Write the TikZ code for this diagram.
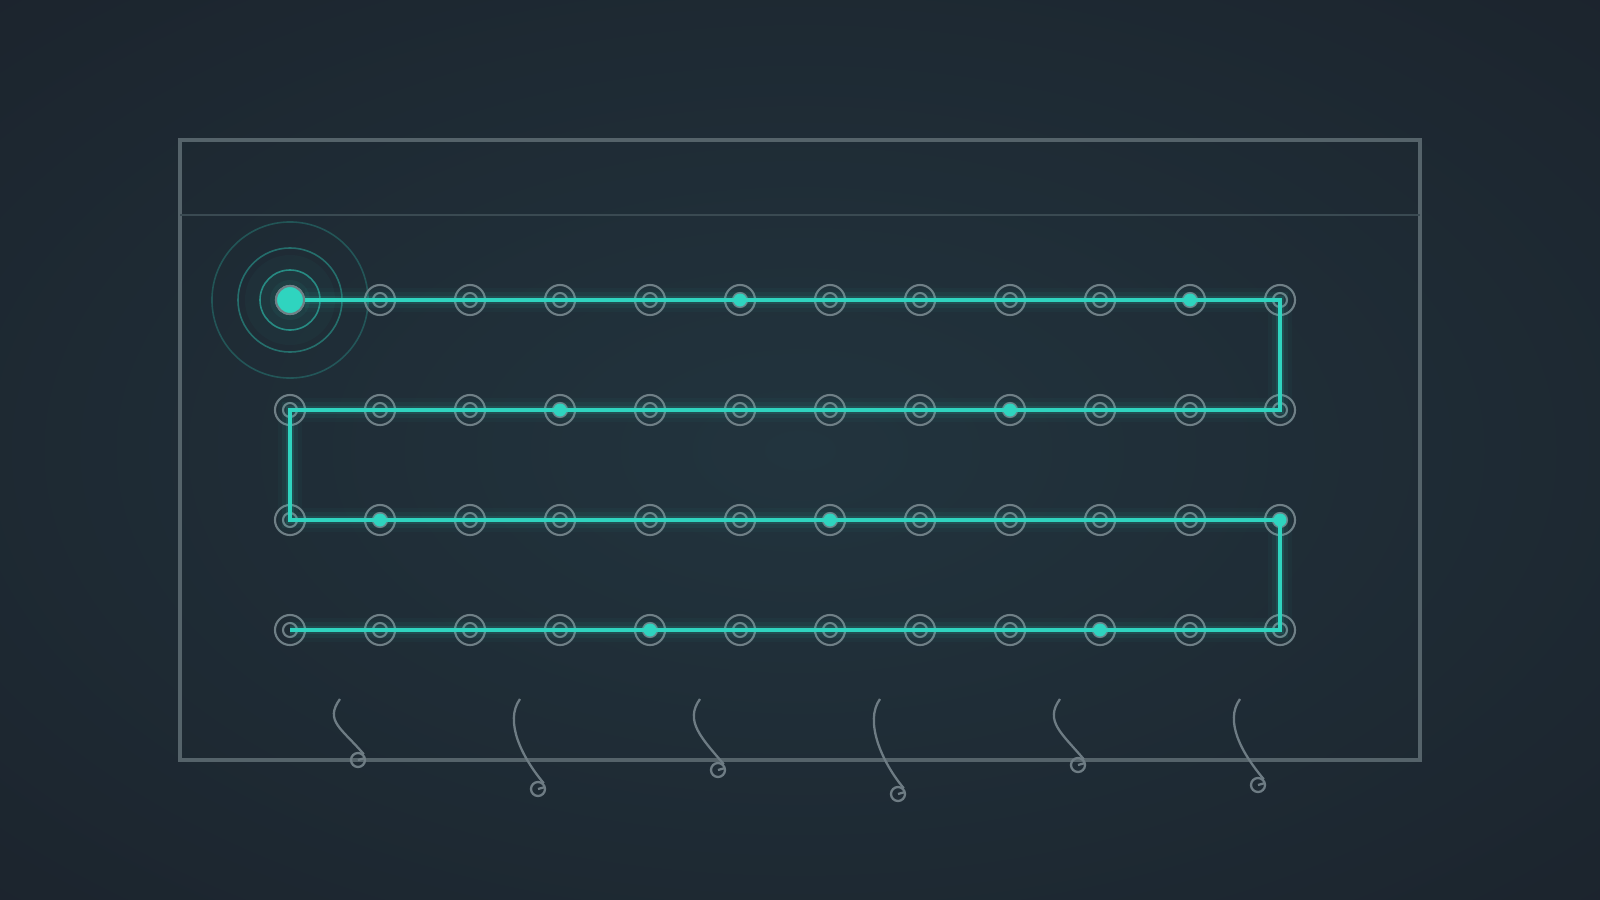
\documentclass[tikz,border=0pt]{standalone}
\usetikzlibrary{positioning}

\definecolor{bgin}{HTML}{22343E}
\definecolor{bgout}{HTML}{1A2029}
\definecolor{wire}{HTML}{2FD4BF}
\definecolor{ringgray}{HTML}{6F7F86}
\definecolor{framegray}{HTML}{55636A}
\definecolor{rulegray}{HTML}{3A4A52}
\definecolor{tailgray}{HTML}{6E7C84}

\pgfdeclareradialshading{bgglow}{\pgfpoint{0bp}{0bp}}{color(0bp)=(bgin); color(45bp)=(bgout); color(80bp)=(bgout)}

\tikzset{
  pad/.style={circle, draw=ringgray, line width=0.6pt, minimum size=0.3cm, inner sep=0pt,
    path picture={\draw[ringgray, line width=0.6pt] (path picture bounding box.center) circle (0.07cm);}},
  lit/.style={circle, fill=wire, minimum size=0.13cm, inner sep=0pt},
  source/.style={circle, fill=wire, draw=ringgray, line width=0.6pt, minimum size=0.28cm, inner sep=0pt},
  wireline/.style={wire, line width=1.1pt},
  curl/.style={circle, draw=tailgray, line width=0.65pt, minimum size=0.14cm, inner sep=0pt,
    path picture={\draw[tailgray, line width=0.65pt] (path picture bounding box.center) -- ++(0.07cm,0.02cm);}},
  tail/.style={tailgray, line width=0.65pt}
}

\begin{document}
\begin{tikzpicture}[x=0.01cm, y=-0.01cm]
    \shade[shading=bgglow] (0,0) rectangle (1600,900);
    \useasboundingbox (0,0) rectangle (1600,900);

    % frame and header rule
    \draw[framegray, line width=1pt] (180,140) rectangle (1420,760);
    \draw[rulegray, line width=0.45pt] (180,215) -- (1420,215);

    % source with rings
    \node[source] (start) at (290,300) {};
    \fill[wire, opacity=0.03] (start) circle (0.45cm);
    \fill[wire, opacity=0.04] (start) circle (0.3cm);
    \fill[wire, opacity=0.05] (start) circle (0.2cm);
    \draw[wire, opacity=0.55, line width=0.45pt] (start) circle (0.30cm);
    \draw[wire, opacity=0.40, line width=0.45pt] (start) circle (0.52cm);
    \draw[wire, opacity=0.25, line width=0.45pt] (start) circle (0.78cm);

    % grid of pads
    \foreach \c in {1,...,11}
        \node[pad] (p-0-\c) at ({290+90*\c},300) {};
    \foreach \r in {1,2,3}
        \foreach \c in {0,...,11}
            \node[pad] (p-\r-\c) at ({290+90*\c},{300+110*\r}) {};

    % the wire, with its glow
    \foreach \w/\o in {7pt/0.03, 4.5pt/0.06, 2.4pt/0.12}
        \draw[wire, opacity=\o, line width=\w] (start) -- (p-0-11.center) -- (p-1-11.center) -- (p-1-0.center)
            -- (p-2-0.center) -- (p-2-11.center) -- (p-3-11.center) -- (p-3-0.center);
    \draw[wireline] (start) -- (p-0-11.center) -- (p-1-11.center) -- (p-1-0.center)
        -- (p-2-0.center) -- (p-2-11.center) -- (p-3-11.center) -- (p-3-0.center);
    \node[source] (start) at (290,300) {};

    % lit pads
    \foreach \r/\c in {0/5,0/10,1/3,1/8,2/1,2/6,2/11,3/4,3/9}
        \node[lit] (l-\r-\c) at (p-\r-\c) {};

    % tails below the frame
    \foreach \k/\d in {0/760,1/789,2/770,3/794,4/765,5/785} {
        \coordinate (t-\k) at ({340+180*\k},699);
        \node[curl] (c-\k) at ({358+180*\k},\d) {};
        \draw[tail] (t-\k) .. controls +(-16,22) and +(-22,-26) .. (c-\k.north east);
    }
\end{tikzpicture}
\end{document}
